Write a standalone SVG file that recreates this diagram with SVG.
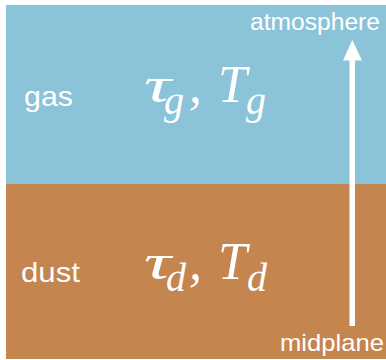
<svg xmlns="http://www.w3.org/2000/svg" width="386" height="360" viewBox="0 0 386 360">
<style>
.sans{font-family:"Liberation Sans",Arial,sans-serif;fill:#fff}
.math{font-family:"Liberation Serif","Times New Roman",serif;font-style:italic;fill:#fff}
.big{font-size:52px}
.tau{font-size:50px}
.sub{font-size:40px}
</style>
<rect x="0" y="0" width="386" height="360" fill="#fff"/>
<g id="gas">
<rect x="6" y="5" width="380" height="179" fill="#8BC3D8"/>
<text class="sans" x="24" y="106" font-size="28" textLength="49" lengthAdjust="spacingAndGlyphs">gas</text>
<text class="math tau" x="144" y="102" textLength="27" lengthAdjust="spacingAndGlyphs">τ</text>
<text class="math sub" x="164" y="114">g</text>
<text class="math big" x="189" y="102">,</text>
<text class="math big" x="218" y="102">T</text>
<text class="math sub" x="246" y="114">g</text>
</g>
<g id="dust">
<rect x="6" y="184" width="380" height="175" fill="#C4854E"/>
<text class="sans" x="21" y="282" font-size="28" textLength="59" lengthAdjust="spacingAndGlyphs">dust</text>
<text class="math tau" x="144" y="279" textLength="27" lengthAdjust="spacingAndGlyphs">τ</text>
<text class="math sub" x="166" y="291">d</text>
<text class="math big" x="189" y="279">,</text>
<text class="math big" x="218" y="279">T</text>
<text class="math sub" x="247" y="291">d</text>
</g>
<g id="connectors">
<rect x="349.5" y="58" width="5.5" height="268" fill="#fff"/>
<polygon points="343,60.5 362,60.5 352.3,40" fill="#fff"/>
</g>
<g id="atmosphere">
<text class="sans" x="250" y="30" font-size="23" textLength="130" lengthAdjust="spacingAndGlyphs">atmosphere</text>
</g>
<g id="midplane">
<text class="sans" x="280" y="351" font-size="24" textLength="104" lengthAdjust="spacingAndGlyphs">midplane</text>
</g>
</svg>
